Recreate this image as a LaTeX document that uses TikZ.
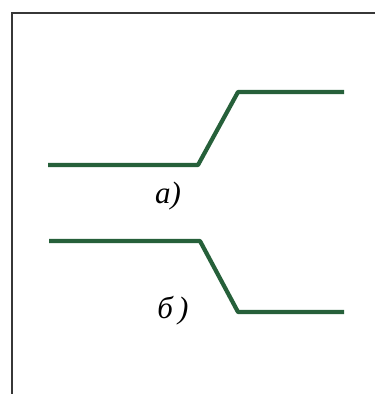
\documentclass[tikz,border=0pt]{standalone}
\usepackage{fontspec}
\newfontfamily\labfont{Liberation Serif}
\definecolor{wave}{RGB}{38,96,58}
\definecolor{framec}{RGB}{55,55,55}
\begin{document}
\begin{tikzpicture}[x=1pt,y=-1pt,
  wavestyle/.style={draw=wave,line width=4.2pt,line join=round,line cap=butt},
  framestyle/.style={draw=framec,line width=2.2pt},
  lab/.style={font=\labfont\itshape\fontsize{31}{34}\selectfont,inner sep=0pt}]
\useasboundingbox (0,0) rectangle (375,394);
\fill[white] (0,0) rectangle (375,394);
% frame
\coordinate (f1) at (12,394);
\coordinate (f2) at (12,13);
\coordinate (f3) at (375,13);
\draw[framestyle] (f1) -- (f2) -- (f3);
% waveform a
\coordinate (a1) at (48,165);
\coordinate (a2) at (198,165);
\coordinate (a3) at (238,92);
\coordinate (a4) at (344,92);
\draw[wavestyle] (a1) -- (a2) -- (a3) -- (a4);
\node[lab] (la) at (168,196) {а)};
% waveform b
\coordinate (b1) at (49,241);
\coordinate (b2) at (200,241);
\coordinate (b3) at (238,312);
\coordinate (b4) at (344,312);
\draw[wavestyle] (b1) -- (b2) -- (b3) -- (b4);
\node[lab] (lb) at (173,311) {б\,)};
\end{tikzpicture}
\end{document}
